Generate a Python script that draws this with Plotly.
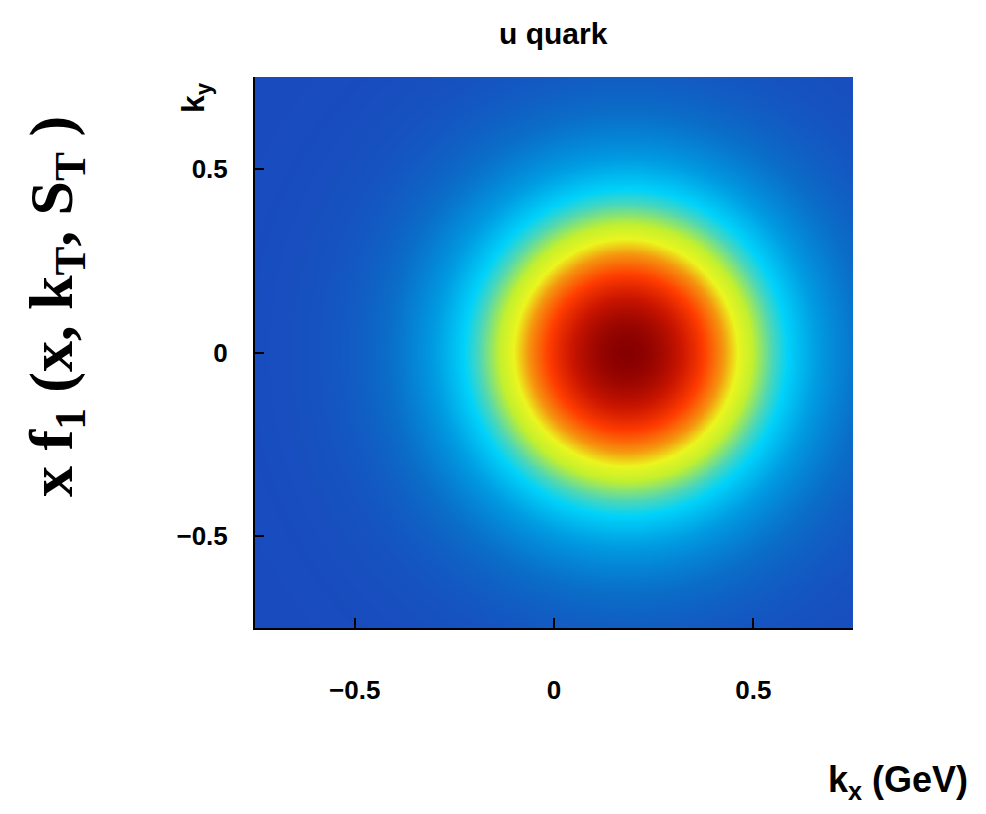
import numpy as np
import plotly.graph_objects as go

# --- values ---
title_text = "u quark"
x_ticks = [-0.5, 0, 0.5]
x_ticklabels = ["\u22120.5", "0", "0.5"]
y_ticks = [-0.5, 0, 0.5]
y_ticklabels = ["\u22120.5", "0", "0.5"]
k_range = [-0.75, 0.75]

# distribution parameters (shifted peak, Sivers-like)
peak_kx = 0.18      # GeV, position of the maximum along kx
peak_ky = 0.0
width_kx = 0.41     # GeV
width_ky = 0.45     # GeV
n_grid = 301

# colour stops
cs_pos = [0.0, 0.12, 0.25, 0.375, 0.45, 0.55, 0.625, 0.7, 0.8, 0.9, 1.0]
cs_col = ["rgb(25,75,190)", "rgb(10,110,200)", "rgb(0,155,225)", "rgb(0,210,250)",
          "rgb(80,215,180)", "rgb(195,240,45)", "rgb(235,245,30)", "rgb(245,150,15)",
          "rgb(255,60,0)", "rgb(200,20,0)", "rgb(135,0,0)"]

kx = np.linspace(k_range[0], k_range[1], n_grid)
ky = np.linspace(k_range[0], k_range[1], n_grid)
KX, KY = np.meshgrid(kx, ky)
Z = np.exp(-((KX - peak_kx) ** 2 / width_kx ** 2 + (KY - peak_ky) ** 2 / width_ky ** 2))

fig = go.Figure(go.Heatmap(
    x=kx, y=ky, z=Z, zmin=0, zmax=1,
    colorscale=[[p, c] for p, c in zip(cs_pos, cs_col)],
    zsmooth="best", showscale=False, hoverinfo="skip"))

tickfont = dict(family="Liberation Sans, Arial, sans-serif", size=26, color="black")
fig.update_layout(
    width=986, height=814,
    margin=dict(l=255, r=133, t=77, b=186),
    paper_bgcolor="white", plot_bgcolor="white",
    showlegend=False,
    xaxis=dict(range=k_range, tickvals=x_ticks, ticktext=["<b>%s</b>" % t for t in x_ticklabels],
               ticks="inside", ticklen=10, tickwidth=2, tickcolor="black",
               showline=True, linecolor="black", linewidth=2, showgrid=False, zeroline=False,
               tickfont=tickfont, ticklabelstandoff=38),
    yaxis=dict(range=k_range, tickvals=y_ticks, ticktext=["<b>%s</b>" % t for t in y_ticklabels],
               ticks="inside", ticklen=9, tickwidth=2, tickcolor="black",
               showline=True, linecolor="black", linewidth=2, showgrid=False, zeroline=False,
               tickfont=tickfont, ticklabelstandoff=20),
)

annos = [
    dict(text="<b>" + title_text + "</b>", x=553, y=33,
         font=dict(family="Liberation Sans, Arial, sans-serif", size=30)),
    dict(text="<b>k<sub>x</sub> (GeV)</b>", x=898, y=782,
         font=dict(family="Liberation Sans, Arial, sans-serif", size=36)),
    dict(text="<b>k<sub>y</sub></b>", x=196, y=98, textangle=-90,
         font=dict(family="Liberation Sans, Arial, sans-serif", size=32)),
    dict(text="<b>x f<sub>1</sub> (x, k<sub>T</sub>, S<sub>T</sub> )</b>", x=55, y=307, textangle=-90,
         font=dict(family="Liberation Serif, Times New Roman, serif", size=62)),
]
for a in annos:
    fx = (a["x"] - 255) / (986 - 255 - 133)
    fy = (814 - 186 - a["y"]) / (814 - 77 - 186)
    fig.add_annotation(text=a["text"], x=fx, y=fy, xref="paper", yref="paper",
                       showarrow=False, xanchor="center", yanchor="middle",
                       textangle=a.get("textangle", 0),
                       font=dict(color="black", **a["font"]))

fig.write_html("out.html")
